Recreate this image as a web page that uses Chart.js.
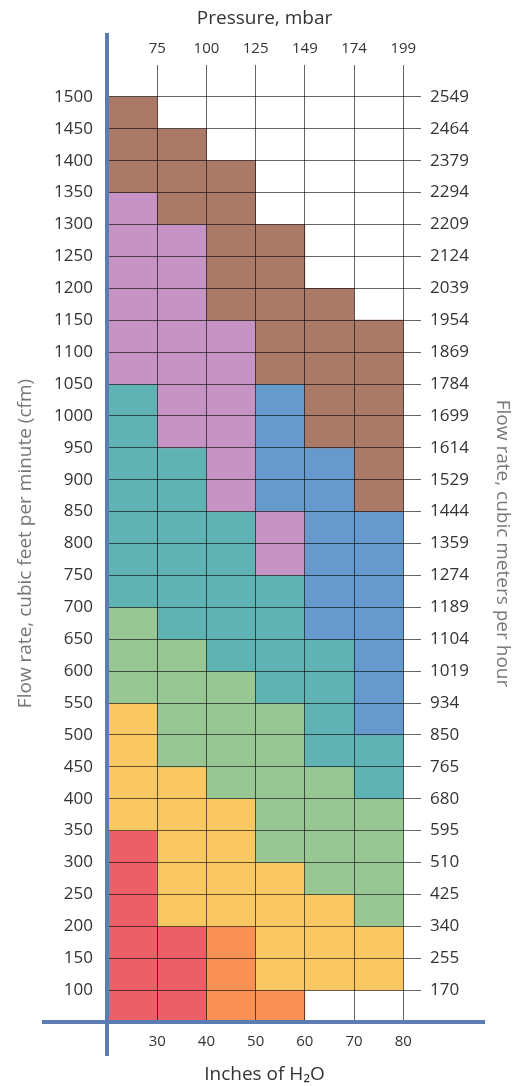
<!DOCTYPE html>
<html>
<head>
<meta charset="utf-8">
<script src="https://cdn.jsdelivr.net/npm/chart.js@4.4.0/dist/chart.umd.min.js"></script>
<style>
  html, body { margin: 0; padding: 0; background: #fff; }
  #wrap { width: 525px; height: 1086px; position: relative; }
</style>
</head>
<body>
<div id="wrap"><canvas id="c"></canvas></div>
<script>
// Column centers (inches of H2O), each column spans +/-5
const columns = [25, 35, 45, 55, 65, 75];
// Bottom / top tick values and labels
const inchTicks = [30, 40, 50, 60, 70, 80];
const mbarLabels = ['75', '100', '125', '149', '174', '199'];
// Flow rate ticks (cfm) and matching m3/h labels
const cfmTicks = [100,150,200,250,300,350,400,450,500,550,600,650,700,750,800,850,900,950,1000,1050,1100,1150,1200,1250,1300,1350,1400,1450,1500];
const m3hLabels = ['170','255','340','425','510','595','680','765','850','934','1019','1104','1189','1274','1359','1444','1529','1614','1699','1784','1869','1954','2039','2124','2209','2294','2379','2464','2549'];

// Ranges [low, high] of cfm per column for each colour zone (null = none)
const brownZone  = [[1350,1500],[1300,1450],[1150,1400],[1050,1300],[950,1200],[850,1150]];
const purpleZone = [[1050,1350],[950,1300],[850,1150],[750,850],null,null];
const blueZone   = [null,null,null,[850,1050],[650,950],[500,850]];
const tealZone   = [[700,1050],[650,950],[600,850],[550,750],[450,650],[400,500]];
const greenZone  = [[550,700],[450,650],[400,600],[300,550],[250,450],[200,400]];
const yellowZone = [[350,550],[200,450],[200,400],[100,300],[100,250],[100,200]];
const redZone    = [[50,350],[50,200],null,null,null,null];
const orangeZone = [null,null,[50,200],[50,100],null,null];

function toData(zone) {
  const out = [];
  zone.forEach((r, i) => { if (r) out.push({ x: columns[i], y: r }); });
  return out;
}
const zones = [
  ['brown', brownZone, '#ab7967'],
  ['purple', purpleZone, '#c594c5'],
  ['blue', blueZone, '#6699cc'],
  ['teal', tealZone, '#5fb3b3'],
  ['green', greenZone, '#99c794'],
  ['yellow', yellowZone, '#fac863'],
  ['red', redZone, '#ec5f67'],
  ['orange', orangeZone, '#f99157']
];

const FONT = "'Open Sans', 'Noto Sans', sans-serif";
const AXIS_BLUE = '#5b7db3';

const axisLines = {
  id: 'axisLines',
  afterDraw(chart) {
    const ctx = chart.ctx;
    const xs = chart.scales.x, ys = chart.scales.y;
    const x0 = xs.getPixelForValue(20) - 1;
    const y0 = ys.getPixelForValue(50);
    ctx.save();
    ctx.strokeStyle = AXIS_BLUE;
    ctx.lineWidth = 4;
    ctx.beginPath();
    ctx.moveTo(x0, 33); ctx.lineTo(x0, 1056);
    ctx.moveTo(42, y0); ctx.lineTo(485, y0);
    ctx.stroke();
    ctx.restore();
  }
};

new Chart(document.getElementById('c'), {
  type: 'bar',
  data: {
    datasets: zones.map(([name, zone, color]) => ({
      label: name,
      data: toData(zone),
      backgroundColor: color,
      borderWidth: 0,
      grouped: false,
      barPercentage: 1,
      categoryPercentage: 1,
      xAxisID: 'x',
      yAxisID: 'y'
    }))
  },
  options: {
    responsive: true,
    maintainAspectRatio: false,
    animation: false,
    layout: { padding: 0 },
    plugins: { legend: { display: false }, tooltip: { enabled: false } },
    scales: {
      x: {
        type: 'linear', position: 'bottom', min: 20, max: 83.6, offset: false,
        afterBuildTicks(s) { s.ticks = inchTicks.map(v => ({ value: v })); },
        afterFit(s) { s.height = 64; s.paddingLeft = 0; s.paddingRight = 0; },
        grid: { color: 'rgba(0,0,0,0.6)', lineWidth: 1, drawTicks: false, z: 1, offset: false },
        border: { display: false },
        ticks: { color: '#333', font: { family: FONT, size: 15 }, padding: 11, maxRotation: 0, autoSkip: false },
        title: { display: true, text: 'Inches of H₂O', color: '#333', font: { family: FONT, size: 19 }, padding: { top: 0, bottom: 0 } }
      },
      x2: {
        type: 'linear', position: 'top', min: 20, max: 83.6, offset: false,
        afterBuildTicks(s) { s.ticks = inchTicks.map(v => ({ value: v })); },
        afterFit(s) { s.height = 65; s.paddingLeft = 0; s.paddingRight = 0; },
        grid: { display: false, drawTicks: false, offset: false },
        border: { display: false },
        ticks: { color: '#333', font: { family: FONT, size: 15 }, padding: 7, maxRotation: 0, autoSkip: false,
                 callback: (v, i) => mbarLabels[i] },
        title: { display: true, text: 'Pressure, mbar', color: '#333', font: { family: FONT, size: 19 }, padding: { top: 7, bottom: 0 } }
      },
      y: {
        type: 'linear', position: 'left', min: 50, max: 1550,
        afterBuildTicks(s) { s.ticks = cfmTicks.map(v => ({ value: v })); },
        afterFit(s) { s.width = 108; s.paddingTop = 0; s.paddingBottom = 0; },
        grid: { color: 'rgba(0,0,0,0.6)', lineWidth: 1, drawTicks: false, z: 1 },
        border: { display: false },
        ticks: { color: '#333', font: { family: FONT, size: 17 }, padding: 15, autoSkip: false,
                 callback: (v, i) => String(cfmTicks[i]) },
        title: { display: true, text: 'Flow rate, cubic feet per minute (cfm)', color: '#777', font: { family: FONT, size: 19 }, padding: { top: 14, bottom: 0 } }
      },
      y2: {
        type: 'linear', position: 'right', min: 50, max: 1550,
        afterBuildTicks(s) { s.ticks = cfmTicks.map(v => ({ value: v })); },
        afterFit(s) { s.width = 104; s.paddingTop = 0; s.paddingBottom = 0; },
        grid: { display: false, drawTicks: false },
        border: { display: false },
        ticks: { color: '#333', font: { family: FONT, size: 17 }, padding: 9, autoSkip: false,
                 callback: (v, i) => m3hLabels[i] },
        title: { display: true, text: 'Flow rate, cubic meters per hour', color: '#777', font: { family: FONT, size: 19 }, padding: { top: 11, bottom: 0 } }
      }
    }
  },
  plugins: [axisLines]
});
</script>
</body>
</html>
